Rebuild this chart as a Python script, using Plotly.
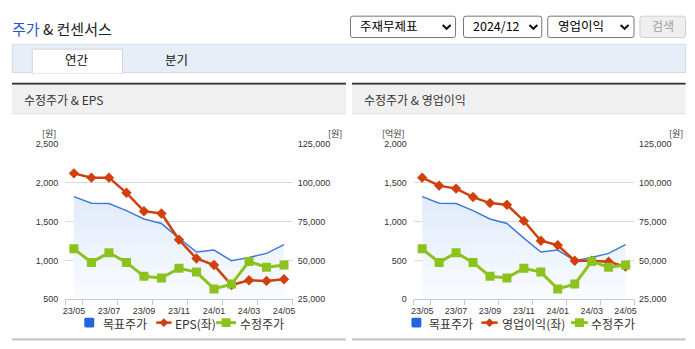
import plotly.graph_objects as go

W, H = 695, 349

# ---------------- data ----------------
months = ["23/05", "23/06", "23/07", "23/08", "23/09", "23/10", "23/11",
          "23/12", "24/01", "24/02", "24/03", "24/04", "24/05"]
tick_labels = ["23/05", "23/07", "23/09", "23/11", "24/01", "24/03", "24/05"]
target_price = [91060, 86880, 86690, 82060, 76690, 73750, 64380,
                55440, 56690, 49810, 51880, 54560, 60190]
adj_price = [57500, 48750, 55000, 48750, 39810, 38750, 45000,
             42500, 31690, 34810, 49380, 45630, 47060]
eps = [2121, 2066, 2066, 1871, 1634, 1604, 1266, 1025, 941, 684, 746, 737, 759]
op_income = [1566, 1463, 1425, 1316, 1238, 1216, 1009, 754, 696, 496, 496, 484, 421]

price_ticks = [25000, 50000, 75000, 100000, 125000]
eps_ticks = [500, 1000, 1500, 2000, 2500]
op_ticks = [0, 500, 1000, 1500, 2000]

# ---------------- style ----------------
BLUE = "#3f7bd6"
LEG_BLUE = "#2166dc"
RED = "#d0400e"
GREEN = "#8cc21d"
AXC = "#bfc9d8"
GRID = "#dadada"
TXT = "#333333"
NUMF = "Liberation Sans, Arial, sans-serif"
KF = "Noto Sans CJK KR, Noto Sans, sans-serif"


def X(p):
    return p / W


def Y(p):
    return 1 - p / H


x = list(range(len(months)))
tick_idx = [months.index(t) for t in tick_labels]
minor_vals = [-0.5] + [i + 0.5 for i in tick_idx]

fig = go.Figure()

# ---- left chart: 목표주가 (area), EPS, 수정주가
fig.add_trace(go.Scatter(
    x=x, y=target_price, xaxis="x", yaxis="y", mode="lines",
    line=dict(color=BLUE, width=1.5), fill="tozeroy",
    fillgradient=dict(type="vertical", start=25000, stop=95000,
                      colorscale=[[0, "#fbfdff"], [1, "#dfeafa"]]),
    hoverinfo="skip"))
fig.add_trace(go.Scatter(
    x=x, y=eps, xaxis="x", yaxis="y2", mode="lines+markers",
    line=dict(color=RED, width=2.5),
    marker=dict(symbol="diamond", size=8, color=RED)))
fig.add_trace(go.Scatter(
    x=x, y=adj_price, xaxis="x", yaxis="y3", mode="lines+markers",
    line=dict(color=GREEN, width=3),
    marker=dict(symbol="square", size=9, color=GREEN)))

# ---- right chart: 목표주가 (area), 영업이익, 수정주가
fig.add_trace(go.Scatter(
    x=x, y=target_price, xaxis="x2", yaxis="y4", mode="lines",
    line=dict(color=BLUE, width=1.5), fill="tozeroy",
    fillgradient=dict(type="vertical", start=25000, stop=95000,
                      colorscale=[[0, "#fbfdff"], [1, "#dfeafa"]]),
    hoverinfo="skip"))
fig.add_trace(go.Scatter(
    x=x, y=op_income, xaxis="x2", yaxis="y5", mode="lines+markers",
    line=dict(color=RED, width=2.5),
    marker=dict(symbol="diamond", size=8, color=RED)))
fig.add_trace(go.Scatter(
    x=x, y=adj_price, xaxis="x2", yaxis="y6", mode="lines+markers",
    line=dict(color=GREEN, width=3),
    marker=dict(symbol="square", size=9, color=GREEN)))

YDOM = [Y(303), Y(143)]
LDOM = [X(62.7), X(292.3)]
RDOM = [X(414.3), X(636.5)]
tickfont = dict(size=9, color=TXT, family=NUMF)


def xcfg(domain, anchor):
    return dict(domain=domain, anchor=anchor, range=[-0.5, len(months) - 0.5],
                tickmode="array", tickvals=tick_idx, ticktext=tick_labels,
                ticks="", showline=True, linecolor=AXC, linewidth=1,
                showgrid=False, zeroline=False, tickfont=tickfont,
                ticklabelstandoff=3, fixedrange=True,
                minor=dict(tickmode="array", tickvals=minor_vals, ticks="outside",
                           ticklen=5, tickcolor=AXC, tickwidth=1, showgrid=False))


def ymain(anchor):
    return dict(domain=YDOM, anchor=anchor, side="right",
                range=[price_ticks[0], price_ticks[-1]], tickmode="array",
                tickvals=price_ticks, tickformat=",", showgrid=True,
                gridcolor=GRID, gridwidth=1, zeroline=False, showline=False,
                ticks="", tickfont=tickfont, ticklabelstandoff=4, fixedrange=True)


def yleft(over, anchor, ticks):
    return dict(overlaying=over, anchor=anchor, side="left",
                range=[ticks[0], ticks[-1]], tickmode="array", tickvals=ticks,
                tickformat=",", showgrid=False, zeroline=False, showline=False,
                ticks="", tickfont=tickfont, ticklabelstandoff=6, fixedrange=True)


def yhidden(over, anchor):
    return dict(overlaying=over, anchor=anchor, side="right",
                range=[price_ticks[0], price_ticks[-1]], visible=False,
                fixedrange=True)


shapes = []
ann = []


def rect(x0, y0, x1, y1, fill, line=None, lw=0, layer="below"):
    shapes.append(dict(type="rect", xref="paper", yref="paper",
                       x0=X(x0), x1=X(x1), y0=Y(y1), y1=Y(y0),
                       fillcolor=fill, layer=layer,
                       line=dict(color=line or "rgba(0,0,0,0)", width=lw)))


def rrect(x0, y0, x1, y1, r, fill, line=None, lw=0, layer="below"):
    p = (f"M{X(x0 + r)},{Y(y0)} L{X(x1 - r)},{Y(y0)} Q{X(x1)},{Y(y0)} {X(x1)},{Y(y0 + r)} "
         f"L{X(x1)},{Y(y1 - r)} Q{X(x1)},{Y(y1)} {X(x1 - r)},{Y(y1)} "
         f"L{X(x0 + r)},{Y(y1)} Q{X(x0)},{Y(y1)} {X(x0)},{Y(y1 - r)} "
         f"L{X(x0)},{Y(y0 + r)} Q{X(x0)},{Y(y0)} {X(x0 + r)},{Y(y0)} Z")
    shapes.append(dict(type="path", xref="paper", yref="paper", path=p,
                       fillcolor=fill, layer=layer,
                       line=dict(color=line or "rgba(0,0,0,0)", width=lw)))


def path(pts, color, lw, fill="rgba(0,0,0,0)", close=False, layer="above"):
    p = "M" + " L".join(f"{X(a)},{Y(b)}" for a, b in pts) + (" Z" if close else "")
    shapes.append(dict(type="path", xref="paper", yref="paper", path=p,
                       fillcolor=fill, layer=layer,
                       line=dict(color=color, width=lw)))


def text(xp, yp, s, size, color=TXT, xanchor="left", family=KF):
    ann.append(dict(xref="paper", yref="paper", x=X(xp), y=Y(yp), text=s,
                    showarrow=False, xanchor=xanchor, yanchor="middle",
                    font=dict(size=size, color=color, family=family)))


# ---------------- header ----------------
text(7, 24.5, "<span style='color:#1e5cc4'>주가</span> & 컨센서스", 15, "#222222")


def dropdown(x0, x1, label, chev_x):
    rrect(x0, 11.5, x1, 33.5, 2.5, "#ffffff", "#767676", 1)
    text(x0 + 8, 21.5, label, 12.5, "#000000")
    path([(chev_x - 4, 20.5), (chev_x, 24.5), (chev_x + 4, 20.5)], "#111111", 2)


dropdown(350.5, 456.5, "주재무제표", 447.5)
dropdown(464.5, 543.5, "2024/12", 535)
dropdown(549.5, 636.5, "영업이익", 627)
rrect(642.5, 11.5, 688.5, 33.5, 2.5, "#efefef", "#cfcfcf", 1)
text(665.5, 21.5, "검색", 12, "#a0a0a0", xanchor="center")

# ---------------- tabs ----------------
rect(9.5, 40.5, 688.5, 69.5, "#e8eef8", "#d3dbe7", 1)
rect(29.5, 45.5, 120.5, 70.5, "#ffffff", "#cdd5e1", 1)
rect(30, 68.5, 120, 70.5, "#ffffff")
text(75, 56, "연간", 12.5, "#111111", xanchor="center")
text(175.5, 56, "분기", 12.5, "#111111", xanchor="center")

# ---------------- panels ----------------
for (px0, px1, title) in [(9, 346, "수정주가 & EPS"), (352, 688.5, "수정주가 & 영업이익")]:
    rect(px0, 80, px1, 82, "#333333")
    rect(px0, 82, px1, 111.5, "#f0f0f0")
    rect(px0, 111.5, px1, 112.5, "#dcdcdc")
    rect(px0, 343, px1, 345.5, "#c8c8c8")
    text(px0 + 10, 97.5, title, 12, "#333333")

# unit labels
text(46.7, 132.5, "[원]", 9, TXT, xanchor="center")
text(335, 132.5, "[원]", 9, TXT, xanchor="center")
text(394, 132.5, "[억원]", 9, TXT, xanchor="center")
text(679, 132.5, "[원]", 9, TXT, xanchor="center")


# ---------------- legends ----------------
def legend(sq_x0, t1_x, red_x0, red_x1, t2_x, t2, gr_x0, gr_x1, t3_x, yc=327):
    rrect(sq_x0, yc - 5, sq_x0 + 10, yc + 5, 1.5, LEG_BLUE, layer="above")
    text(t1_x, yc + 0.5, "목표주가", 12)
    path([(red_x0, yc), (red_x1, yc)], RED, 2.5)
    c = (red_x0 + red_x1) / 2
    path([(c, yc - 4.5), (c + 4.5, yc), (c, yc + 4.5), (c - 4.5, yc)], RED, 0,
         fill=RED, close=True)
    text(t2_x, yc + 0.5, t2, 12)
    path([(gr_x0, yc), (gr_x1, yc)], GREEN, 3)
    g = (gr_x0 + gr_x1) / 2
    rect(g - 4.5, yc - 4.5, g + 4.5, yc + 4.5, GREEN, layer="above")
    text(t3_x, yc + 0.5, "수정주가", 12)


legend(82, 98.5, 154.5, 170, 171.5, "EPS(좌)", 215, 235, 237)
legend(412, 428, 482.5, 499, 501.5, "영업이익(좌)", 573, 590, 591.5)

fig.update_layout(
    width=W, height=H, margin=dict(l=0, r=0, t=0, b=0),
    paper_bgcolor="#ffffff", plot_bgcolor="rgba(0,0,0,0)",
    showlegend=False, hovermode=False,
    xaxis=xcfg(LDOM, "y"),
    yaxis=ymain("x"),
    yaxis2=yleft("y", "x", eps_ticks),
    yaxis3=yhidden("y", "x"),
    xaxis2=xcfg(RDOM, "y4"),
    yaxis4=ymain("x2"),
    yaxis5=yleft("y4", "x2", op_ticks),
    yaxis6=yhidden("y4", "x2"),
    shapes=shapes, annotations=ann,
)

fig.write_html("out.html", config={"displayModeBar": False})
